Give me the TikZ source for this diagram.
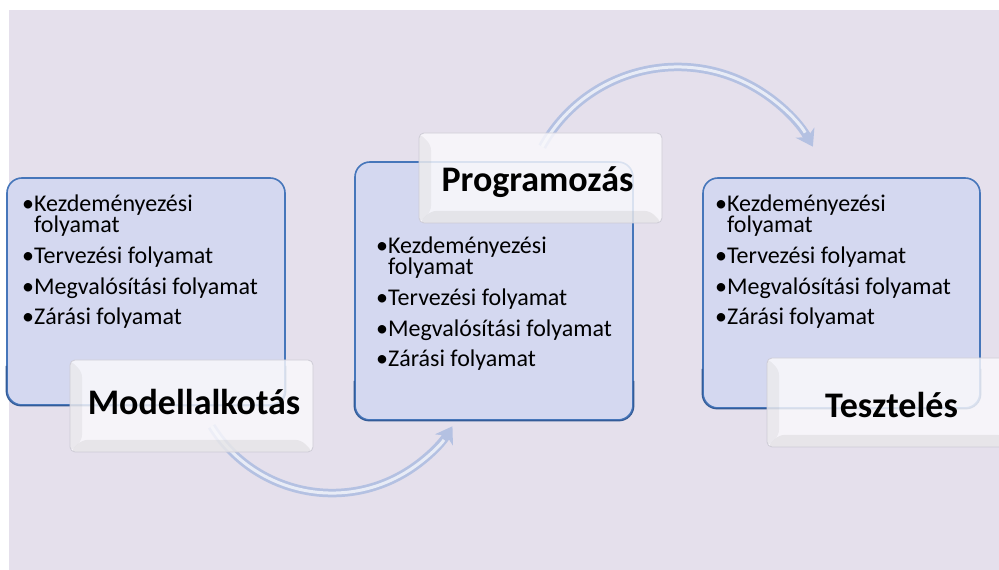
\documentclass[tikz,border=0pt]{standalone}
\usepackage{fontspec}
\setmainfont{Carlito}
\usetikzlibrary{arrows.meta}

\definecolor{bgpanel}{RGB}{229,224,236}
\definecolor{boxfill}{RGB}{212,216,240}
\definecolor{boxline}{RGB}{70,118,186}
\definecolor{boxshade}{RGB}{52,92,152}
\definecolor{arrowbody}{RGB}{180,193,226}
\definecolor{labelline}{RGB}{206,204,214}
\definecolor{labelfill}{RGB}{250,249,252}

\begin{document}
\begin{tikzpicture}[x=1pt,y=1pt,
  phase/.style={draw=boxline, line width=1.6pt, fill=boxfill, rounded corners=15pt, inner sep=0pt},
  tag/.style={draw=labelline, line width=0.8pt, fill=labelfill, fill opacity=0.82,
    rounded corners=5pt, inner sep=0pt,
    path picture={
      \fill[black!40, fill opacity=0.12]
        (path picture bounding box.north west) -- (path picture bounding box.south west)
        -- ([shift={(12pt,12pt)}]path picture bounding box.south west)
        -- ([shift={(12pt,-12pt)}]path picture bounding box.north west) -- cycle;
      \fill[black!40, fill opacity=0.16]
        (path picture bounding box.south west) -- (path picture bounding box.south east)
        -- ([shift={(-12pt,12pt)}]path picture bounding box.south east)
        -- ([shift={(12pt,12pt)}]path picture bounding box.south west) -- cycle;
    }},
  bulletlist/.style={anchor=base west, inner sep=0pt, align=left,
    font=\fontsize{24}{21.5}\selectfont},
  title/.style={anchor=base, inner sep=0pt, font=\bfseries\fontsize{36}{40}\selectfont},
  flowbody/.style={line width=8.5pt, draw=arrowbody,
    -{Stealth[length=16pt, width=21pt, inset=5pt]}},
  flowshine/.style={line width=3pt, draw=white, draw opacity=0.7, shorten >=16pt},
]
\clip (0,0) rectangle (999,570);
\fill[white] (0,0) rectangle (999,570);
\fill[bgpanel] (9,0) rectangle (999,560);

% curved flow arrows between the phases
\coordinate (f1s) at (211.6,143.7);
\coordinate (f2s) at (542.2,423.3);
\draw[flowbody] (f1s) arc[start angle=212, end angle=328, radius=142];
\draw[flowshine] (f1s) arc[start angle=212, end angle=328, radius=142];
\draw[flowbody] (f2s) arc[start angle=151, end angle=29, radius=154.75];
\draw[flowshine] (f2s) arc[start angle=151, end angle=29, radius=154.75];

% phase boxes, with a slightly darker lower rim
\node[phase, minimum width=278pt, minimum height=227pt] (box1) at (146,278.5) {};
\node[phase, minimum width=278pt, minimum height=258pt] (box2) at (494,279) {};
\node[phase, minimum width=277pt, minimum height=230pt] (box3) at (841.5,277) {};
\foreach \b in {box1,box2,box3}{
  \draw[boxshade, line width=1.2pt, rounded corners=15pt]
    ([yshift=40pt]\b.south west) -- (\b.south west) -- (\b.south east) -- ([yshift=40pt]\b.south east);
}

\newcommand{\steplist}{\textbullet Kezdeményezési\\\phantom{\textbullet}folyamat\\[9.5pt]%
\textbullet Tervezési folyamat\\[9.5pt]%
\textbullet Megvalósítási folyamat\\[8.5pt]%
\textbullet Zárási folyamat}

% the base anchor of a multi-line node sits on its last line
\node[bulletlist] (list1) at (22,245) {\steplist};
\node[bulletlist] (list2) at (376,203) {\steplist};
\node[bulletlist] (list3) at (715,245) {\steplist};

% title tabs
\node[tag, minimum width=243pt, minimum height=92pt] (tag1) at (191.5,164) {};
\node[tag, minimum width=243pt, minimum height=90pt] (tag2) at (540.5,392) {};
\node[tag, minimum width=248pt, minimum height=89pt] (tag3) at (891,167.5) {};

\node[title] (title1) at (194,155) {Modellalkotás};
\node[title] (title2) at (537.5,378) {Programozás};
\node[title] (title3) at (891.5,152) {Tesztelés};
\end{tikzpicture}
\end{document}
